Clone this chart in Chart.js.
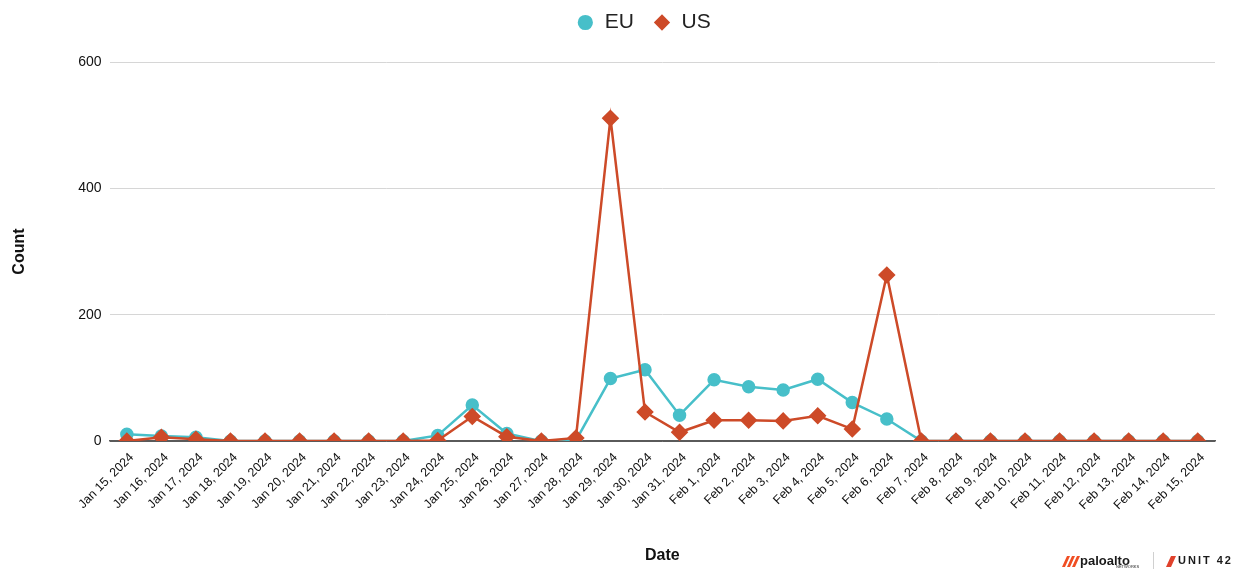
<!DOCTYPE html>
<html>
<head>
<meta charset="utf-8">
<title>EU vs US daily count</title>
<script src="https://cdn.jsdelivr.net/npm/chart.js@4.4.1/dist/chart.umd.min.js"></script>
<style>
  html, body { margin: 0; padding: 0; background: #ffffff; }
  #wrap { width: 1243px; height: 569px; }
</style>
</head>
<body>
<div id="wrap"><canvas id="chart" width="1243" height="569"></canvas></div>
<script>
// Daily counts, Jan 15 – Feb 15, 2024
const dates = [
  'Jan 15, 2024', 'Jan 16, 2024', 'Jan 17, 2024', 'Jan 18, 2024', 'Jan 19, 2024',
  'Jan 20, 2024', 'Jan 21, 2024', 'Jan 22, 2024', 'Jan 23, 2024', 'Jan 24, 2024',
  'Jan 25, 2024', 'Jan 26, 2024', 'Jan 27, 2024', 'Jan 28, 2024', 'Jan 29, 2024',
  'Jan 30, 2024', 'Jan 31, 2024', 'Feb 1, 2024', 'Feb 2, 2024', 'Feb 3, 2024',
  'Feb 4, 2024', 'Feb 5, 2024', 'Feb 6, 2024', 'Feb 7, 2024', 'Feb 8, 2024',
  'Feb 9, 2024', 'Feb 10, 2024', 'Feb 11, 2024', 'Feb 12, 2024', 'Feb 13, 2024',
  'Feb 14, 2024', 'Feb 15, 2024'
];

const euCounts = [
  11, 8, 6, 0, 0, 0, 0, 0, 0, 9,
  57, 12, 0, 1, 99, 113, 41, 97, 86, 81,
  98, 61, 35, 0, 0, 0, 0, 0, 0, 0,
  0, 0
];

const usCounts = [
  0, 6, 3, 0, 0, 0, 0, 0, 0, 1,
  39, 7, 0, 5, 511, 46, 14, 33, 33, 32,
  40, 19, 263, 0, 0, 0, 0, 0, 0, 0,
  0, 0
];

const yTicks = [0, 200, 400, 600];

const EU_COLOR = '#47bfc9';
const US_COLOR = '#cd4a28';
const FONT = "'Liberation Sans', Arial, Helvetica, sans-serif";

// Move the legend row right of centre and up towards the top edge
const legendShift = {
  id: 'legendShift',
  afterLayout(chart) {
    const lg = chart.legend;
    if (lg) {
      lg.left += 33; lg.right += 33;
      lg.top -= 19; lg.bottom -= 19;
    }
  }
};

// Brand marks in the lower-right corner
const brandMarks = {
  id: 'brandMarks',
  afterDraw(chart) {
    const ctx = chart.ctx;
    ctx.save();
    // palo alto stripes
    ctx.fillStyle = '#f04e23';
    const sx = 1062, sy = 556;
    for (let i = 0; i < 3; i++) {
      ctx.beginPath();
      ctx.moveTo(sx + i * 5, sy + 11);
      ctx.lineTo(sx + i * 5 + 5, sy);
      ctx.lineTo(sx + i * 5 + 8, sy);
      ctx.lineTo(sx + i * 5 + 3, sy + 11);
      ctx.closePath();
      ctx.fill();
    }
    ctx.fillStyle = '#1a1a1a';
    ctx.font = "bold 13px " + FONT;
    ctx.textBaseline = 'middle';
    ctx.textAlign = 'left';
    ctx.fillText('paloalto', 1080, 561);
    ctx.font = "4px " + FONT;
    ctx.fillText('NETWORKS', 1116, 567);
    // divider
    ctx.strokeStyle = '#d0d0d0';
    ctx.lineWidth = 1;
    ctx.beginPath();
    ctx.moveTo(1153.5, 552);
    ctx.lineTo(1153.5, 569);
    ctx.stroke();
    // unit 42
    ctx.fillStyle = '#e0412b';
    ctx.beginPath();
    ctx.moveTo(1166, 567);
    ctx.lineTo(1171, 556);
    ctx.lineTo(1176, 556);
    ctx.lineTo(1171, 567);
    ctx.closePath();
    ctx.fill();
    ctx.fillStyle = '#1a1a1a';
    ctx.font = "bold 11px " + FONT;
    if ('letterSpacing' in ctx) ctx.letterSpacing = '2px';
    ctx.fillText('UNIT 42', 1178, 561);
    ctx.restore();
  }
};

const ctx = document.getElementById('chart').getContext('2d');
new Chart(ctx, {
  type: 'line',
  data: {
    labels: dates,
    datasets: [
      {
        label: 'EU',
        data: euCounts,
        borderColor: EU_COLOR,
        backgroundColor: EU_COLOR,
        pointBackgroundColor: EU_COLOR,
        pointBorderColor: EU_COLOR,
        pointStyle: 'circle',
        pointRadius: 5.5,
        pointHoverRadius: 5.5,
        borderWidth: 2.5,
        tension: 0,
        order: 1
      },
      {
        label: 'US',
        data: usCounts,
        borderColor: US_COLOR,
        backgroundColor: US_COLOR,
        pointBackgroundColor: US_COLOR,
        pointBorderColor: US_COLOR,
        pointStyle: 'rectRot',
        pointRadius: 7,
        pointHoverRadius: 7,
        borderWidth: 2.5,
        tension: 0,
        order: 0
      }
    ]
  },
  options: {
    responsive: false,
    devicePixelRatio: 1,
    animation: false,
    layout: { padding: { top: 12, right: 28, bottom: 0, left: 6 } },
    plugins: {
      legend: {
        position: 'top',
        labels: {
          usePointStyle: true,
          boxWidth: 18,
          boxHeight: 9,
          padding: 19,
          color: '#222222',
          font: { family: FONT, size: 21 },
          sort: (a, b) => a.datasetIndex - b.datasetIndex
        }
      },
      tooltip: { enabled: false }
    },
    scales: {
      x: {
        offset: true,
        grid: { display: false },
        border: { display: true, color: '#5a5a5a', width: 1.5 },
        ticks: {
          autoSkip: false,
          maxRotation: 45,
          minRotation: 45,
          padding: 1,
          labelOffset: 5,
          color: '#111111',
          font: { family: FONT, size: 12.5 }
        },
        title: {
          display: true,
          text: 'Date',
          color: '#111111',
          font: { family: FONT, size: 16, weight: 'bold' },
          padding: { top: 32, bottom: 4 }
        }
      },
      y: {
        min: 0,
        max: 600,
        afterBuildTicks(scale) { scale.ticks = yTicks.map(v => ({ value: v })); },
        grid: {
          color: (c) => c.tick && c.tick.value === 0 ? '#5a5a5a' : '#d6d6d6',
          lineWidth: 1,
          drawTicks: false
        },
        border: { display: false },
        ticks: {
          padding: 8,
          color: '#111111',
          font: { family: FONT, size: 14 }
        },
        title: {
          display: true,
          text: 'Count',
          color: '#111111',
          font: { family: FONT, size: 16, weight: 'bold' },
          padding: { top: 4, bottom: 41 }
        }
      }
    }
  },
  plugins: [legendShift, brandMarks]
});
</script>
</body>
</html>
